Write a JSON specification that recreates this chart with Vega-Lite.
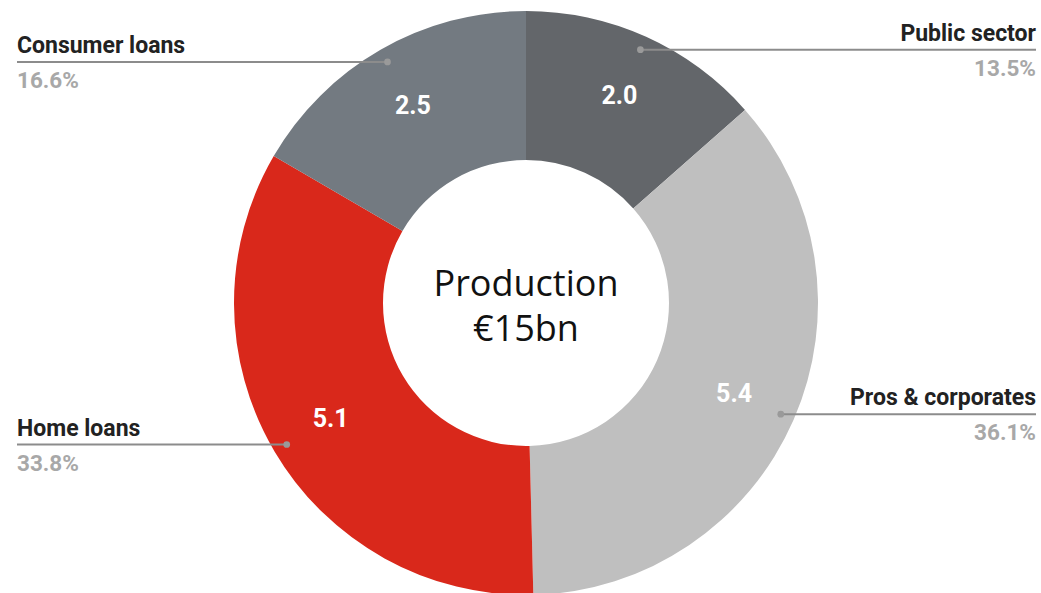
{
  "$schema": "https://vega.github.io/schema/vega-lite/v6.json",
  "width": 1030,
  "height": 580,
  "autosize": {"type": "none"},
  "padding": {"left": 11, "top": 13, "right": 0, "bottom": 0},
  "background": "white",
  "config": {"view": {"stroke": null}},
  "data": {
    "values": [
      {"k": 1, "name": "Public sector", "val": 2.0, "share": 0.135},
      {"k": 2, "name": "Pros & corporates", "val": 5.4, "share": 0.361},
      {"k": 3, "name": "Home loans", "val": 5.1, "share": 0.338},
      {"k": 4, "name": "Consumer loans", "val": 2.5, "share": 0.166}
    ]
  },
  "transform": [
    {"joinaggregate": [{"op": "sum", "field": "share", "as": "total"}]},
    {"window": [{"op": "sum", "field": "share", "as": "cum"}], "sort": [{"field": "k", "order": "ascending"}], "frame": [null, 0]},
    {"calculate": "(datum.cum - datum.share / 2) / datum.total * 2 * PI", "as": "mid"},
    {"calculate": "278 * sin(datum.mid)", "as": "px"},
    {"calculate": "278 * cos(datum.mid)", "as": "py"},
    {"calculate": "datum.px < 0 ? -509 : 510", "as": "edge"}
  ],
  "layer": [
    {
      "mark": {"type": "arc", "innerRadius": 143, "outerRadius": 292},
      "encoding": {
        "theta": {"field": "share", "type": "quantitative", "stack": true},
        "order": {"field": "k", "type": "quantitative"},
        "color": {
          "field": "name",
          "type": "nominal",
          "scale": {
            "domain": ["Public sector", "Pros & corporates", "Home loans", "Consumer loans"],
            "range": ["#63666a", "#bfbfbf", "#d9281b", "#737a81"]
          },
          "legend": null
        }
      }
    },
    {
      "mark": {"type": "text", "radius": 227, "font": "Roboto", "fontSize": 25, "fontWeight": "bold", "fill": "#ffffff", "baseline": "middle", "align": "center"},
      "encoding": {
        "theta": {"field": "share", "type": "quantitative", "stack": true},
        "order": {"field": "k", "type": "quantitative"},
        "detail": {"field": "name", "type": "nominal"},
        "text": {"field": "val", "type": "quantitative", "format": ".1f"}
      }
    },
    {
      "mark": {"type": "rule", "color": "#8c8c8c", "strokeWidth": 2},
      "encoding": {
        "x": {"field": "px", "type": "quantitative", "scale": {"domain": [-515, 515], "nice": false, "zero": false}, "axis": null},
        "x2": {"field": "edge"},
        "y": {"field": "py", "type": "quantitative", "scale": {"domain": [-290, 290], "nice": false, "zero": false}, "axis": null}
      }
    },
    {
      "mark": {"type": "point", "filled": true, "color": "#9a9a9a", "size": 45, "opacity": 1},
      "encoding": {
        "x": {"field": "px", "type": "quantitative", "scale": {"domain": [-515, 515], "nice": false, "zero": false}, "axis": null},
        "y": {"field": "py", "type": "quantitative", "scale": {"domain": [-290, 290], "nice": false, "zero": false}, "axis": null}
      }
    },
    {
      "transform": [{"filter": "datum.px >= 0"}],
      "mark": {"type": "text", "align": "right", "baseline": "alphabetic", "dy": -9, "font": "Roboto", "fontSize": 23, "fontWeight": "bold", "color": "#222222"},
      "encoding": {
        "x": {"field": "edge", "type": "quantitative", "scale": {"domain": [-515, 515], "nice": false, "zero": false}, "axis": null},
        "y": {"field": "py", "type": "quantitative", "scale": {"domain": [-290, 290], "nice": false, "zero": false}, "axis": null},
        "text": {"field": "name", "type": "nominal"}
      }
    },
    {
      "transform": [{"filter": "datum.px >= 0"}],
      "mark": {"type": "text", "align": "right", "baseline": "alphabetic", "dy": 26, "font": "Roboto", "fontSize": 22.5, "fontWeight": "bold", "color": "#a8a8a8"},
      "encoding": {
        "x": {"field": "edge", "type": "quantitative", "scale": {"domain": [-515, 515], "nice": false, "zero": false}, "axis": null},
        "y": {"field": "py", "type": "quantitative", "scale": {"domain": [-290, 290], "nice": false, "zero": false}, "axis": null},
        "text": {"field": "share", "type": "quantitative", "format": ".1%"}
      }
    },
    {
      "transform": [{"filter": "datum.px < 0"}],
      "mark": {"type": "text", "align": "left", "baseline": "alphabetic", "dy": -9, "font": "Roboto", "fontSize": 23, "fontWeight": "bold", "color": "#222222"},
      "encoding": {
        "x": {"field": "edge", "type": "quantitative", "scale": {"domain": [-515, 515], "nice": false, "zero": false}, "axis": null},
        "y": {"field": "py", "type": "quantitative", "scale": {"domain": [-290, 290], "nice": false, "zero": false}, "axis": null},
        "text": {"field": "name", "type": "nominal"}
      }
    },
    {
      "transform": [{"filter": "datum.px < 0"}],
      "mark": {"type": "text", "align": "left", "baseline": "alphabetic", "dy": 26, "font": "Roboto", "fontSize": 22.5, "fontWeight": "bold", "color": "#a8a8a8"},
      "encoding": {
        "x": {"field": "edge", "type": "quantitative", "scale": {"domain": [-515, 515], "nice": false, "zero": false}, "axis": null},
        "y": {"field": "py", "type": "quantitative", "scale": {"domain": [-290, 290], "nice": false, "zero": false}, "axis": null},
        "text": {"field": "share", "type": "quantitative", "format": ".1%"}
      }
    },
    {
      "transform": [{"filter": "datum.k == 1"}],
      "mark": {"type": "text", "text": "Production", "align": "center", "baseline": "middle", "font": "Open Sans", "fontSize": 36, "fontWeight": 500, "color": "#111111"},
      "encoding": {
        "x": {"datum": 0, "type": "quantitative", "scale": {"domain": [-515, 515], "nice": false, "zero": false}, "axis": null},
        "y": {"datum": 18, "type": "quantitative", "scale": {"domain": [-290, 290], "nice": false, "zero": false}, "axis": null}
      }
    },
    {
      "transform": [{"filter": "datum.k == 1"}],
      "mark": {"type": "text", "text": "€15bn", "align": "center", "baseline": "middle", "font": "Open Sans", "fontSize": 36, "fontWeight": 500, "color": "#111111"},
      "encoding": {
        "x": {"datum": 0, "type": "quantitative", "scale": {"domain": [-515, 515], "nice": false, "zero": false}, "axis": null},
        "y": {"datum": -27, "type": "quantitative", "scale": {"domain": [-290, 290], "nice": false, "zero": false}, "axis": null}
      }
    }
  ]
}
